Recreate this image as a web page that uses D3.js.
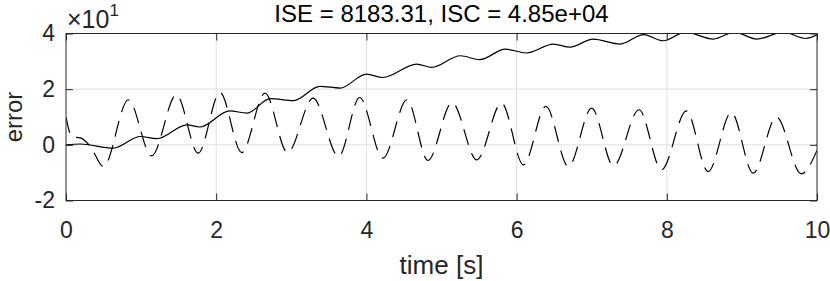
<!DOCTYPE html>
<html>
<head>
<meta charset="utf-8">
<script src="https://cdn.jsdelivr.net/npm/d3@7"></script>
<style>
  html, body { margin: 0; padding: 0; background: #fff; }
  svg { display: block; font-family: 'Liberation Sans', Arial, sans-serif; }
</style>
</head>
<body>
<svg width="830" height="281"></svg>
<script>
// values are in the displayed unit (x10^1)
const xTicks = [0, 2, 4, 6, 8, 10];
const yTicks = [-2, 0, 2, 4];
const titleText = 'ISE = 8183.31, ISC = 4.85e+04';

// solid line, read at its ripple crests and troughs
const solidT = [0, 0.19, 0.63, 0.99, 1.21, 1.61, 1.78, 2.18, 2.41, 2.72, 3.03, 3.38, 3.65, 4.0, 4.22,
  4.67, 4.87, 5.25, 5.51, 5.85, 6.13, 6.49, 6.71, 7.02, 7.38, 7.69, 7.95, 8.25, 8.62, 8.9, 9.2,
  9.55, 9.85, 10];
const solidV = [0, 0.03, -0.12, 0.30, 0.22, 0.72, 0.64, 1.22, 1.14, 1.66, 1.59, 2.10, 2.04, 2.54, 2.42,
  2.90, 2.78, 3.20, 3.06, 3.44, 3.30, 3.62, 3.51, 3.80, 3.62, 3.96, 3.74, 4.05, 3.80, 4.05, 3.80,
  4.05, 3.82, 3.95];

// dashed line, read at its peaks and troughs
const dashT = [0, 0.08, 0.19, 0.32, 0.50, 0.83, 1.14, 1.47, 1.76, 2.05, 2.34, 2.65, 2.95, 3.29, 3.63,
  3.91, 4.22, 4.54, 4.82, 5.14, 5.47, 5.80, 6.09, 6.39, 6.69, 7.00, 7.29, 7.63, 7.93, 8.26, 8.55,
  8.86, 9.15, 9.46, 9.79, 10];
const dashV = [1.0, 0.29, 0.25, -0.04, -0.78, 1.62, -0.40, 1.80, -0.30, 1.88, -0.28, 1.86, -0.28, 1.68, -0.42,
  1.70, -0.48, 1.62, -0.56, 1.52, -0.54, 1.50, -0.72, 1.38, -0.78, 1.32, -0.76, 1.26, -0.90, 1.22, -0.96,
  1.16, -1.02, 1.00, -1.04, -0.2];

const svg = d3.select('svg');
const pad = { left: 66, right: 13, top: 33.5, bottom: 80.5 };
const width = 830, height = 281;
const plotW = width - pad.left - pad.right;
const plotH = height - pad.top - pad.bottom;
const ink = '#262626';
const tick = 7;
const fs = 23;

const x = d3.scaleLinear().domain([0, 10]).range([0, plotW]);
const y = d3.scaleLinear().domain([-2, 4]).range([plotH, 0]);

const g = svg.append('g').attr('transform', `translate(${pad.left},${pad.top})`);

g.append('defs').append('clipPath').attr('id', 'plotclip')
  .append('rect').attr('width', plotW).attr('height', plotH);

// grid
const grid = g.append('g');
grid.selectAll('.gx').data(xTicks.slice(1, -1)).join('line')
  .attr('x1', d => x(d)).attr('x2', d => x(d))
  .attr('y1', 0).attr('y2', plotH)
  .attr('stroke', '#dfdfdf').attr('stroke-width', 1);
grid.selectAll('.gy').data(yTicks.slice(1, -1)).join('line')
  .attr('y1', d => y(d)).attr('y2', d => y(d))
  .attr('x1', 0).attr('x2', plotW)
  .attr('stroke', '#dfdfdf').attr('stroke-width', 1);

// data
const mk = d3.line().x(d => x(d[0])).y(d => y(d[1])).curve(d3.curveMonotoneX);
const lines = g.append('g').attr('clip-path', 'url(#plotclip)');
lines.append('path')
  .attr('d', mk(dashT.map((t, i) => [t, dashV[i]])))
  .attr('fill', 'none').attr('stroke', '#000').attr('stroke-width', 1.2)
  .attr('stroke-dasharray', '16,9');
lines.append('path')
  .attr('d', mk(solidT.map((t, i) => [t, solidV[i]])))
  .attr('fill', 'none').attr('stroke', '#000').attr('stroke-width', 1.2);

// axes, matlab style: ticks pointing in, box all round
function styleAxis (sel) {
  sel.select('.domain').remove();
  sel.selectAll('line').attr('stroke', ink);
  sel.selectAll('text').attr('fill', ink).attr('font-size', fs)
    .attr('font-family', "'Liberation Sans', Arial, sans-serif");
}

g.append('g').attr('transform', `translate(0,${plotH})`)
  .call(d3.axisBottom(x).tickValues(xTicks).tickSize(-tick).tickPadding(21).tickFormat(String))
  .call(styleAxis);
g.append('g')
  .call(d3.axisTop(x).tickValues(xTicks).tickSize(-tick).tickFormat(''))
  .call(styleAxis);
g.append('g')
  .call(d3.axisLeft(y).tickValues(yTicks).tickSize(-tick).tickPadding(11).tickFormat(String))
  .call(styleAxis);
g.append('g').attr('transform', `translate(${plotW},0)`)
  .call(d3.axisRight(y).tickValues(yTicks).tickSize(-tick).tickFormat(''))
  .call(styleAxis);

g.append('rect')
  .attr('width', plotW).attr('height', plotH)
  .attr('fill', 'none').attr('stroke', ink).attr('stroke-width', 1);

// exponent
const ex = g.append('text').attr('x', 1).attr('y', -6)
  .attr('fill', ink).attr('font-size', 25);
ex.append('tspan').text('×10');
ex.append('tspan').attr('dy', -12).attr('font-size', 17).text('1');

// titles
svg.append('text').attr('x', pad.left + plotW / 2).attr('y', 22)
  .attr('text-anchor', 'middle').attr('fill', '#000').attr('font-size', 24)
  .text(titleText);
svg.append('text').attr('x', pad.left + plotW / 2).attr('y', 274)
  .attr('text-anchor', 'middle').attr('fill', ink).attr('font-size', 26)
  .text('time [s]');
svg.append('text')
  .attr('transform', `translate(22,${pad.top + plotH / 2}) rotate(-90)`)
  .attr('text-anchor', 'middle').attr('fill', ink).attr('font-size', 24)
  .text('error');
</script>
</body>
</html>
